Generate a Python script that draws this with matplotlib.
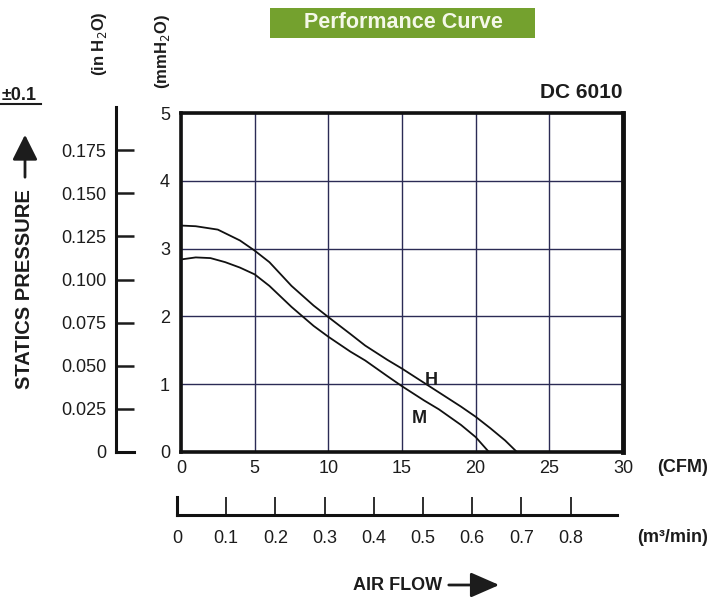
import matplotlib
matplotlib.use("Agg")
import matplotlib.pyplot as plt
from matplotlib.patches import Rectangle, FancyArrowPatch
from matplotlib.lines import Line2D

plt.rcParams['font.family'] = ['Liberation Sans', 'DejaVu Sans']

# Data (CFM vs mmH2O)
h_cfm = [0, 1, 2.5, 4, 5, 6, 7.5, 9, 10, 11.5, 12.5, 14, 15, 16.5, 17.5, 19, 20, 21, 22, 22.8]
h_mm  = [3.34, 3.33, 3.28, 3.12, 2.97, 2.8, 2.45, 2.16, 1.99, 1.74, 1.57, 1.36, 1.23, 1.02, 0.88, 0.67, 0.52, 0.35, 0.17, 0.0]
m_cfm = [0, 1, 2, 3, 4, 5, 6, 7.5, 9, 10, 11.5, 12.5, 14, 15, 16.5, 17.5, 19, 20, 20.9]
m_mm  = [2.84, 2.87, 2.86, 2.8, 2.72, 2.62, 2.45, 2.14, 1.86, 1.7, 1.48, 1.35, 1.12, 0.97, 0.76, 0.63, 0.4, 0.22, 0.0]

cfm_ticks = [0, 5, 10, 15, 20, 25, 30]
mm_ticks = [0, 1, 2, 3, 4, 5]
inh2o_ticks = [0, 0.025, 0.05, 0.075, 0.1, 0.125, 0.15, 0.175]
inh2o_labels = ['0', '0.025', '0.050', '0.075', '0.100', '0.125', '0.150', '0.175']
m3_ticks = [0, 0.1, 0.2, 0.3, 0.4, 0.5, 0.6, 0.7, 0.8]
m3_labels = ['0', '0.1', '0.2', '0.3', '0.4', '0.5', '0.6', '0.7', '0.8']

W, H = 723, 597
fig = plt.figure(figsize=(W/100, H/100), dpi=100)

def fx(px): return px / W
def fy(py): return 1 - py / H

txtc = '#1c1c1c'
grid_c = '#2b2b55'
FS = 13

# Main axes
ax = fig.add_axes([fx(181), fy(452), fx(623) - fx(181), fy(113) - fy(452)])
ax.set_xlim(0, 30)
ax.set_ylim(0, 5)
ax.set_xticks(cfm_ticks)
ax.set_yticks(mm_ticks)
ax.grid(True, color=grid_c, linewidth=1.0)
ax.tick_params(length=0, labelsize=FS, colors=txtc)
ax.tick_params(axis='x', pad=6)
ax.tick_params(axis='y', pad=8)
for s in ax.spines.values():
    s.set_linewidth(2.6)
    s.set_color('#111111')
ax.spines['right'].set_linewidth(3.5)
ax.plot(h_cfm, h_mm, color='#111111', lw=1.3)
ax.plot(m_cfm, m_mm, color='#111111', lw=1.3)
ax.text(17.0, 1.06, 'H', fontsize=FS, fontweight='bold', color=txtc, ha='center', va='center')
ax.text(16.2, 0.5, 'M', fontsize=FS, fontweight='bold', color=txtc, ha='center', va='center')

# inH2O axis
ax2 = fig.add_axes([fx(116), fy(452), 0.001, fy(107) - fy(452)])
ax2.set_ylim(0, 0.2)
ax2.set_xlim(0, 1)
for k in ['top', 'right', 'bottom']:
    ax2.spines[k].set_visible(False)
ax2.spines['left'].set_linewidth(2.2)
ax2.spines['left'].set_color('#111111')
ax2.set_xticks([])
ax2.set_yticks(inh2o_ticks)
ax2.set_yticklabels(inh2o_labels)
ax2.tick_params(axis='y', direction='in', length=13, width=1.8, labelsize=FS,
                colors=txtc, pad=7)
ax2.patch.set_visible(False)
fig.add_artist(Line2D([fx(116), fx(134)], [fy(452), fy(452)], color='#111111', lw=2.2))

# m3/min axis
ax3 = fig.add_axes([fx(177), fy(515), fx(617) - fx(177), 0.001])
ax3.set_xlim(0, (617 - 177) / 492)
for k in ['top', 'right', 'left']:
    ax3.spines[k].set_visible(False)
ax3.spines['bottom'].set_linewidth(2.2)
ax3.spines['bottom'].set_color('#111111')
ax3.set_yticks([])
ax3.set_xticks(m3_ticks)
ax3.set_xticklabels(m3_labels)
ax3.tick_params(axis='x', direction='in', length=13, width=1.3, labelsize=FS,
                colors=txtc, pad=11)
ax3.patch.set_visible(False)
fig.add_artist(Line2D([fx(177), fx(177)], [fy(515), fy(497)], color='#111111', lw=2.2))

# Texts
fig.text(fx(708), fy(468), '(CFM)', fontsize=FS, fontweight='bold', color=txtc, ha='right', va='center')
fig.text(fx(708), fy(537), '(m³/min)', fontsize=FS, fontweight='bold', color=txtc, ha='right', va='center')
fig.text(fx(623), fy(92), 'DC 6010', fontsize=15, fontweight='bold', color=txtc, ha='right', va='center')
fig.add_artist(Rectangle((fx(270), fy(38)), fx(535) - fx(270), fy(8) - fy(38),
                         transform=fig.transFigure, facecolor='#74a12e', edgecolor='none'))
fig.text(fx(403), fy(23), 'Performance Curve', fontsize=15.5, fontweight='bold', color='#f4f8e8',
         ha='center', va='center')
fig.text(fx(99), fy(44), '(in H$_2$O)', fontsize=12, fontweight='bold', color=txtc,
         rotation=90, ha='center', va='center')
fig.text(fx(163), fy(52), '(mmH$_2$O)', fontsize=12, fontweight='bold', color=txtc,
         rotation=90, ha='center', va='center')
fig.text(fx(19), fy(95), '±0.1', fontsize=FS, fontweight='bold', color=txtc, ha='center', va='center')
fig.add_artist(Line2D([fx(0), fx(41)], [fy(104), fy(104)], color=txtc, lw=1.5))
fig.text(fx(25), fy(289), 'STATICS PRESSURE', fontsize=14.5, fontweight='bold', color=txtc,
         rotation=90, ha='center', va='center')
fig.add_artist(FancyArrowPatch((fx(25), fy(180)), (fx(25), fy(132)),
               transform=fig.transFigure, arrowstyle='-|>,head_length=7,head_width=3.5',
               color=txtc, lw=2.0, mutation_scale=2.2))
fig.text(fx(442), fy(585), 'AIR FLOW', fontsize=FS, fontweight='bold', color=txtc, ha='right', va='center')
fig.add_artist(FancyArrowPatch((fx(446), fy(585)), (fx(502), fy(585)),
               transform=fig.transFigure, arrowstyle='-|>,head_length=8,head_width=3.5',
               color=txtc, lw=2.0, mutation_scale=2.2))

fig.savefig('out.png', dpi=100)
